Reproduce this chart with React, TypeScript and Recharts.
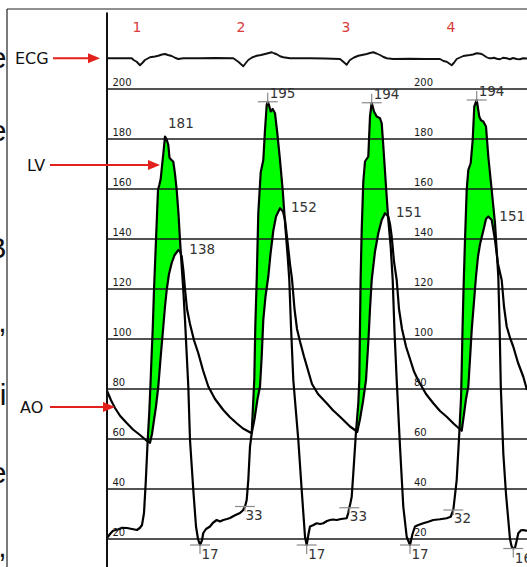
import React from 'react';
import { ComposedChart, Line, Area, XAxis, YAxis, ReferenceLine, ReferenceDot } from 'recharts';

type Pt = [number, number];

// time (arbitrary sample units) / pressure (mmHg)
const LV_TRACE: Pt[] = [
  [107,20.4],[110,22],[113,23.3],[118,23.8],[122,24.5],[127,24.4],[132,24],[137,23.6],[140,24.5],[142,25.6],[144,30.4],[145.7,42.4],[147.7,59.6],[149.2,70],[150.5,82],[151.7,94.4],[152.7,103.6],[154,119.6],[156,139.6],[158,159.6],[159.3,161.6],[160.7,164],[161.7,168],[163.3,174],[165,181],[166.5,180],[168.3,177.6],[169.5,172.5],[171,171.8],[173.3,170.9],[175,166],[176.7,159.6],[178.5,150],[180,139.6],[181.7,129],[183.3,119.6],[185,107.6],[186.7,94],[188.3,81],[190,59.6],[193.3,39.6],[196,25],[198,20],[200,17.6],[202,19.5],[203.3,22.4],[206,24],[210,25],[213,26.5],[216.7,27.6],[220,27],[223.3,27.6],[227,28],[230,28.4],[235,29.5],[240,30.4],[243,31.5],[245,33],[246.7,35.6],[248.3,43.6],[250,56.9],[251.7,62.3],[253.3,75.6],[254.3,84],[255.3,105],[256.7,123.6],[258.3,150.3],[260.7,166.6],[263.3,171.6],[265,183.6],[266.7,193.6],[267.7,194.9],[269,193.5],[270.7,191],[272.7,192],[275,190.3],[277.3,182.3],[280,171.6],[282.7,159.6],[285.3,145],[287.7,133],[289.3,123.6],[291,105],[293.3,83.6],[298.3,59.6],[301.7,39.6],[305,20.9],[306.7,17.6],[308.5,22],[310,25],[313,25.5],[316.7,26.3],[320,26],[323.3,26.3],[327,27.2],[330,27.6],[333,27.8],[336.7,27.6],[341,28],[346.7,28.3],[348.3,30.5],[349.3,32.5],[350.5,34.5],[351.7,36.9],[353.3,46.3],[356,62.9],[358.3,74.3],[359.3,83.6],[360,105],[360.6,123.6],[361.7,143.6],[363.3,163],[365,171],[368.3,173],[370,189],[371.7,194.5],[374,191],[376.7,189],[380,188.3],[381.7,186.3],[383.3,177.3],[386,161],[388.3,147.6],[390.7,136.9],[392.7,123.6],[394.5,103],[396.7,83.6],[400,56.9],[403.3,32.9],[406.7,20.9],[410,17.6],[412.5,22],[415,25],[418.3,25.6],[423.3,26.3],[428.3,26.9],[433.3,27.6],[440,27.9],[446.7,28.3],[450.7,28.9],[453.3,31.6],[456.7,43.6],[459.3,62.3],[461.1,76.9],[461.8,90],[462.5,103.6],[463.5,119.6],[465,139.6],[466.7,159.6],[468.3,167.6],[470.7,170.3],[472.7,179.6],[474.3,193],[476.7,195.6],[479.3,188.9],[481,187.5],[483.3,187],[486,185],[488.3,173],[491.7,159.6],[495,146.3],[498.3,125],[499.6,105],[500.8,81],[503.3,54.3],[506,38],[508.3,27.6],[510,20],[511.7,16.9],[513.3,16.2],[515,16.5],[516.5,19],[518.3,22.3],[521,23.5],[523.3,23.6],[527,23.2],
];

const AO_TRACE: Pt[] = [
  [107,79.3],[111,75.5],[115,72.4],[120,69.3],[126.7,66.4],[133,63.8],[140,61.6],[146.7,59.3],[150,58.5],[152,62],[154,67.6],[156,73],[158.3,81],[160.5,92],[163.3,105],[165,113],[166.7,119.6],[169,126],[171.7,130.4],[174.5,133.5],[178.3,135.6],[180,135],[181.7,133],[183.5,127],[185,120],[187,112],[190,106],[194,99.5],[198.3,94.3],[203,87.5],[208.3,81],[215,76],[223.3,71.6],[230,68.7],[236.7,66.3],[243,64.2],[251.7,62.3],[254.5,68],[257.5,76],[260,81],[261.7,93],[263.3,107.6],[265.5,117],[268.3,125],[270.5,134],[273.3,143.3],[276,149],[280,152.3],[283,151],[285,147.6],[287.5,139],[290,130],[292,124],[294.5,112],[297,104],[300,99],[304,93],[308,87.5],[312,82],[318,78],[326.7,74.3],[333,71.5],[340,68.9],[350,65],[357.3,62.9],[360,68],[363,75],[366,83.6],[368.5,100],[370,112],[371.7,123.6],[375,135],[378.3,142.3],[381.7,147.6],[385,150.3],[388.3,149],[390,146],[391.7,141],[394,131],[396.7,123.6],[399,112],[402,104],[406,97],[410,92],[414,87],[418,83.6],[426,78],[433.3,74.3],[440,71.2],[446.7,68.9],[454,66],[461.7,63.3],[464,70],[466,76],[468.3,81],[470,92],[471.7,103.6],[474,115],[476,125],[478,133],[480,137.9],[483.3,143.3],[486,148],[488.3,149],[491.7,147.6],[495,139.6],[498,130],[501.7,123.6],[504,113],[506.7,105],[510,100.5],[513.3,96.9],[518,90.5],[523.3,84.9],[527,79.6],
];

const ECG_TRACE: Pt[] = [
  [107,212.3],[120,212.3],[131.7,212.3],[134,211.5],[136.7,210.9],[140,209.5],[142.5,210.5],[145,211.6],[150,212.7],[155,213],[158.3,213.3],[162,213.8],[165,214],[168,213.6],[171.7,213.2],[175,212.5],[178.3,212],[183.3,212.3],[200,212.3],[215,212.4],[233.3,212.3],[238.3,210.9],[243.3,209.1],[246,210.5],[248.3,211.6],[252,212.6],[256.7,213.3],[261,213.6],[265,214],[268,214.3],[271.7,214.7],[274,214.3],[276.7,213.9],[280,213.1],[283.3,212.7],[290,212.3],[310,212.3],[325,212.2],[340,212],[343.3,210.9],[346.7,209.7],[348.5,210.8],[350,211.6],[354,212.6],[358.3,213.3],[362,213.6],[366.7,214],[370,214.4],[373.3,214.7],[376.5,214.2],[380,213.6],[383,212.9],[386.7,212.3],[393.3,212],[410,212.1],[425,212],[440,212],[443.5,211.2],[446.7,210.9],[451.7,209.5],[454,210.5],[456.7,212],[460,212.6],[463.3,213.2],[466.5,213.4],[470,213.6],[473,213.8],[476.7,214.3],[479,214.2],[481.7,214],[484,213.4],[486.7,212.7],[489,212.3],[491.7,212.3],[494,212.5],[496.7,212.1],[500,211.9],[503,212.5],[506.7,212.3],[510,211.9],[513,212.4],[516.7,212],[520,211.9],[523,212.3],[527,212.2],
];

const GRID_LEVELS = [20, 40, 60, 80, 100, 120, 140, 160, 180, 200];
const BEAT_NUMBERS = ['1', '2', '3', '4'];
const BEAT_TIMES = [137, 241, 346, 451];

const LV_PEAKS = [
  { t: 165, v: 181, label: '181', mark: false },
  { t: 267.7, v: 194.9, label: '195', mark: true },
  { t: 371.7, v: 194.5, label: '194', mark: true },
  { t: 476.7, v: 195.6, label: '194', mark: true },
];
const AO_PEAKS = [
  { t: 178.3, v: 135.6, label: '138' },
  { t: 280, v: 152.3, label: '152' },
  { t: 385, v: 150.3, label: '151' },
  { t: 488.3, v: 149, label: '151' },
];
const LV_MINS = [
  { t: 200, v: 17.6, label: '17' },
  { t: 306.7, v: 17.6, label: '17' },
  { t: 410, v: 17.6, label: '17' },
  { t: 513.3, v: 16.2, label: '16' },
];
const LV_EDP = [
  { t: 245, v: 33, label: '33' },
  { t: 349.3, v: 32.5, label: '33' },
  { t: 453.3, v: 31.6, label: '32' },
];

const TRACE_LABELS = [
  { name: 'ECG', t: 15, v: 212.3, arrowFrom: 53, arrowTo: 100 },
  { name: 'LV', t: 27, v: 169.6, arrowFrom: 50, arrowTo: 160 },
  { name: 'AO', t: 20, v: 72.8, arrowFrom: 50, arrowTo: 115 },
];

// fragments of the neighbouring page text, clipped at the left edge
const EDGE_FRAGMENTS = ['e', 'e', 'B', ',', 'i', 'e', ','];
const EDGE_FRAGMENT_LEVELS = [208.4, 179.2, 132.4, 102.8, 73.6, 42.4, 12.8];

const X_DOMAIN: [number, number] = [0, 527];
const Y_DOMAIN: [number, number] = [8.8, 235.6];
const SANS = '"DejaVu Sans", Verdana, sans-serif';
const RED = '#e3211c';

function interpAt(trace: Pt[], t: number): number {
  if (t <= trace[0][0]) return trace[0][1];
  for (let i = 1; i < trace.length; i++) {
    if (t <= trace[i][0]) {
      const [t0, v0] = trace[i - 1];
      const [t1, v1] = trace[i];
      return v0 + ((v1 - v0) * (t - t0)) / (t1 - t0);
    }
  }
  return trace[trace.length - 1][1];
}

function buildBand(lv: Pt[], ao: Pt[]) {
  const ts = Array.from(new Set([...lv.map((p) => p[0]), ...ao.map((p) => p[0])])).sort((a, b) => a - b);
  const out: { t: number; band: [number, number] }[] = [];
  for (let i = 0; i < ts.length; i++) {
    const t = ts[i];
    const l = interpAt(lv, t);
    const a = interpAt(ao, t);
    if (i > 0) {
      const tp = ts[i - 1];
      const dp = interpAt(lv, tp) - interpAt(ao, tp);
      const d = l - a;
      if (dp * d < 0) {
        const tc = tp + ((t - tp) * dp) / (dp - d);
        const ac = interpAt(ao, tc);
        out.push({ t: tc, band: [ac, ac] });
      }
    }
    out.push({ t, band: [a, Math.max(l, a)] });
  }
  return out;
}

const toRows = (trace: Pt[]) => trace.map(([t, v]) => ({ t, v }));

const lvRows = toRows(LV_TRACE);
const aoRows = toRows(AO_TRACE);
const ecgRows = toRows(ECG_TRACE);
const bandRows = buildBand(LV_TRACE, AO_TRACE);

const CROSS = '#8a8a8a';

function textAt(text: string, dx: number, dy: number, style: any) {
  return (p: any) => (
    <text x={p.cx + dx} y={p.cy + dy} {...style}>
      {text}
    </text>
  );
}

export default function App() {
  const numStyle = { fontFamily: SANS, fontSize: 13.5, fill: '#333' };
  return (
    <div style={{ position: 'absolute', left: 0, top: 0, width: 527, height: 567, background: '#fff' }}>
      <ComposedChart width={527} height={567} margin={{ top: 0, right: 0, bottom: 0, left: 0 }}>
        <XAxis dataKey="t" type="number" domain={X_DOMAIN} allowDataOverflow hide />
        <YAxis type="number" domain={Y_DOMAIN} allowDataOverflow hide />

        <Area
          data={bandRows}
          dataKey="band"
          type="linear"
          fill="#00ff00"
          fillOpacity={1}
          stroke="none"
          dot={false}
          activeDot={false}
          isAnimationActive={false}
        />

        {GRID_LEVELS.map((g) => (
          <Line
            key={'g' + g}
            data={[{ t: 107, v: g }, { t: 527, v: g }]}
            dataKey="v"
            type="linear"
            stroke="#1a1a1a"
            strokeWidth={1.6}
            dot={false}
            activeDot={false}
            isAnimationActive={false}
          />
        ))}

        <Line data={aoRows} dataKey="v" type="linear" stroke="#000" strokeWidth={2.2} dot={false} activeDot={false} isAnimationActive={false} strokeLinejoin="round" />
        <Line data={lvRows} dataKey="v" type="linear" stroke="#000" strokeWidth={2.2} dot={false} activeDot={false} isAnimationActive={false} strokeLinejoin="round" />
        <Line data={ecgRows} dataKey="v" type="linear" stroke="#111" strokeWidth={1.9} dot={false} activeDot={false} isAnimationActive={false} strokeLinejoin="round" />

        {/* frame and main axis */}
        <ReferenceLine segment={[{ x: 7, y: 232 }, { x: 527, y: 232 }]} stroke="#222" strokeWidth={1.2} ifOverflow="visible" />
        <ReferenceLine segment={[{ x: 7, y: 232 }, { x: 7, y: 8.8 }]} stroke="#222" strokeWidth={1.2} ifOverflow="visible" />
        <ReferenceLine segment={[{ x: 107, y: 230.6 }, { x: 107, y: 8.8 }]} stroke="#111" strokeWidth={2} ifOverflow="visible" />

        {/* tick labels, two columns */}
        {GRID_LEVELS.map((g) => (
          <ReferenceDot key={'l' + g} x={112.5} y={g} r={0} ifOverflow="visible"
            shape={textAt(String(g), 0, -3, { fontFamily: SANS, fontSize: 10, fill: '#1a1a1a' })} />
        ))}
        {GRID_LEVELS.map((g) => (
          <ReferenceDot key={'r' + g} x={414} y={g} r={0} ifOverflow="visible"
            shape={textAt(String(g), 0, -3, { fontFamily: SANS, fontSize: 10, fill: '#1a1a1a' })} />
        ))}

        {/* beat numbers */}
        {BEAT_NUMBERS.map((b, i) => (
          <ReferenceDot key={'b' + b} x={BEAT_TIMES[i]} y={224.8} r={0} ifOverflow="visible"
            shape={textAt(b, 0, 0, { fontFamily: SANS, fontSize: 14, fill: '#d83a3a', textAnchor: 'middle', dominantBaseline: 'central' })} />
        ))}

        {/* LV peaks */}
        {LV_PEAKS.map((p, i) => (
          <ReferenceDot key={'lp' + i} x={p.t} y={p.v} r={0} ifOverflow="visible"
            shape={(s: any) => (
              <g>
                {p.mark && (
                  <g stroke={CROSS} strokeWidth={1.2}>
                    <line x1={s.cx - 10} x2={s.cx + 10} y1={s.cy} y2={s.cy} />
                    <line x1={s.cx} x2={s.cx} y1={s.cy - 9} y2={s.cy + 2} />
                  </g>
                )}
                <text x={s.cx + (p.mark ? 2 : 3)} y={s.cy + (p.mark ? -4 : -9)} {...numStyle}>{p.label}</text>
              </g>
            )} />
        ))}
        {AO_PEAKS.map((p, i) => (
          <ReferenceDot key={'ap' + i} x={p.t} y={p.v} r={0} ifOverflow="visible"
            shape={textAt(p.label, 11, 4, numStyle)} />
        ))}
        {LV_MINS.map((p, i) => (
          <ReferenceDot key={'lm' + i} x={p.t} y={p.v} r={0} ifOverflow="visible"
            shape={(s: any) => (
              <g>
                <g stroke={CROSS} strokeWidth={1.2}>
                  <line x1={s.cx - 10} x2={s.cx + 10} y1={s.cy} y2={s.cy} />
                  <line x1={s.cx} x2={s.cx} y1={s.cy} y2={s.cy + 9} />
                </g>
                <text x={s.cx + 1.5} y={s.cy + 14} {...numStyle}>{p.label}</text>
              </g>
            )} />
        ))}
        {LV_EDP.map((p, i) => (
          <ReferenceDot key={'le' + i} x={p.t} y={p.v} r={0} ifOverflow="visible"
            shape={(s: any) => (
              <g>
                <g stroke={CROSS} strokeWidth={1.2}>
                  <line x1={s.cx - 10} x2={s.cx + 10} y1={s.cy} y2={s.cy} />
                  <line x1={s.cx} x2={s.cx} y1={s.cy} y2={s.cy + 5} />
                </g>
                <text x={s.cx + 0.5} y={s.cy + 13} {...numStyle}>{p.label}</text>
              </g>
            )} />
        ))}

        {/* trace names with red arrows */}
        {TRACE_LABELS.map((l) => (
          <ReferenceDot key={'n' + l.name} x={l.t} y={l.v} r={0} ifOverflow="visible"
            shape={textAt(l.name, 0, 0, { fontFamily: SANS, fontSize: 16, fill: '#111', dominantBaseline: 'central' })} />
        ))}
        {TRACE_LABELS.map((l) => (
          <ReferenceLine key={'s' + l.name} segment={[{ x: l.arrowFrom, y: l.v }, { x: l.arrowTo - 9, y: l.v }]}
            stroke={RED} strokeWidth={2} ifOverflow="visible" />
        ))}
        {TRACE_LABELS.map((l) => (
          <ReferenceDot key={'h' + l.name} x={l.arrowTo} y={l.v} r={0} ifOverflow="visible"
            shape={(s: any) => (
              <polygon points={`${s.cx},${s.cy} ${s.cx - 12},${s.cy - 5} ${s.cx - 12},${s.cy + 5}`} fill={RED} />
            )} />
        ))}

        {/* clipped glyphs from the adjoining text */}
        {EDGE_FRAGMENTS.map((f, i) => (
          <ReferenceDot key={'f' + i} x={6.5} y={EDGE_FRAGMENT_LEVELS[i]} r={0} ifOverflow="visible"
            shape={textAt(f, 0, 0, { fontFamily: '"Liberation Sans", Arial, sans-serif', fontSize: 30, fill: '#111', textAnchor: 'end' })} />
        ))}
      </ComposedChart>
    </div>
  );
}
